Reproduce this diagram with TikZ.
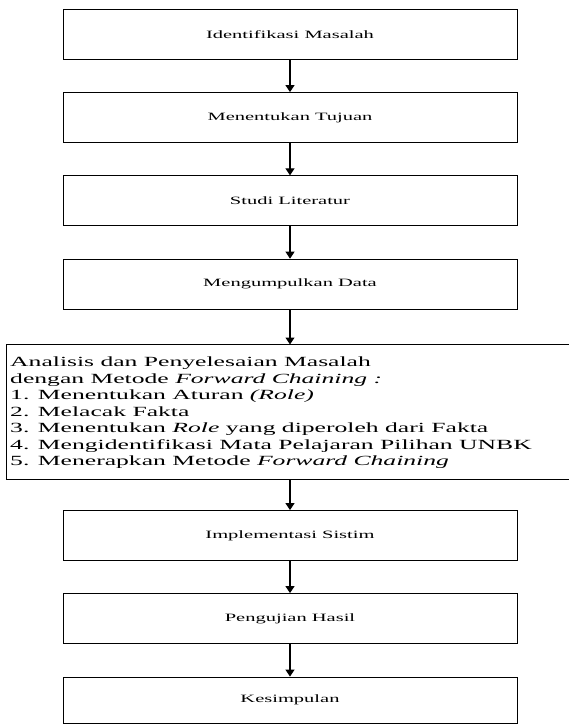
\documentclass[tikz,border=0pt]{standalone}
\usepackage{fontspec}
\usetikzlibrary{arrows.meta}
\newfontfamily\stretchedserif[FakeStretch=1.83]{Liberation Serif}
\tikzset{
  stepbox/.style={draw=black, line width=0.9pt, minimum width=454pt, minimum height=50pt,
    inner sep=0pt, font=\stretchedserif\fontsize{11.2}{13}\selectfont},
  flowarrow/.style={draw=black, line width=1.1pt, -{Triangle[width=9pt,length=7pt]}},
  listtext/.style={inner sep=0pt, align=left, anchor=north west,
    font=\stretchedserif\fontsize{14}{16.5}\selectfont}
}
\begin{document}
\begin{tikzpicture}[x=1pt,y=-1pt]
\useasboundingbox (0,0) rectangle (569,724);
\clip (0,0) rectangle (569,724);
\node[stepbox] (b1) at (290,34.2) {Identifikasi Masalah};
\node[stepbox] (b2) at (290,117.5) {Menentukan Tujuan};
\node[stepbox] (b3) at (290,200.8) {Studi Literatur};
\node[stepbox] (b4) at (290,284.1) {Mengumpulkan Data};
\draw[line width=0.9pt] (6.5,344.5) rectangle (580,479);
\coordinate (b5top) at (290,344.5);
\coordinate (b5bot) at (290,479);
\node[listtext] (b5) at (10,357) {Analisis dan Penyelesaian Masalah\\
dengan Metode \textit{Forward Chaining :}\\
1. Menentukan Aturan \textit{(Role)}\\
2. Melacak Fakta\\
3. Menentukan \textit{Role} yang diperoleh dari Fakta\\
4. Mengidentifikasi Mata Pelajaran Pilihan UNBK\\
5. Menerapkan Metode \textit{Forward Chaining}};
\node[stepbox] (b6) at (290,535.5) {Implementasi Sistim};
\node[stepbox] (b7) at (290,618.5) {Pengujian Hasil};
\node[stepbox, minimum height=46pt] (b8) at (290,700) {Kesimpulan};
\draw[flowarrow] (b1.south) -- (b2.north);
\draw[flowarrow] (b2.south) -- (b3.north);
\draw[flowarrow] (b3.south) -- (b4.north);
\draw[flowarrow] (b4.south) -- (b5top);
\draw[flowarrow] (b5bot) -- (b6.north);
\draw[flowarrow] (b6.south) -- (b7.north);
\draw[flowarrow] (b7.south) -- (b8.north);
\end{tikzpicture}
\end{document}
